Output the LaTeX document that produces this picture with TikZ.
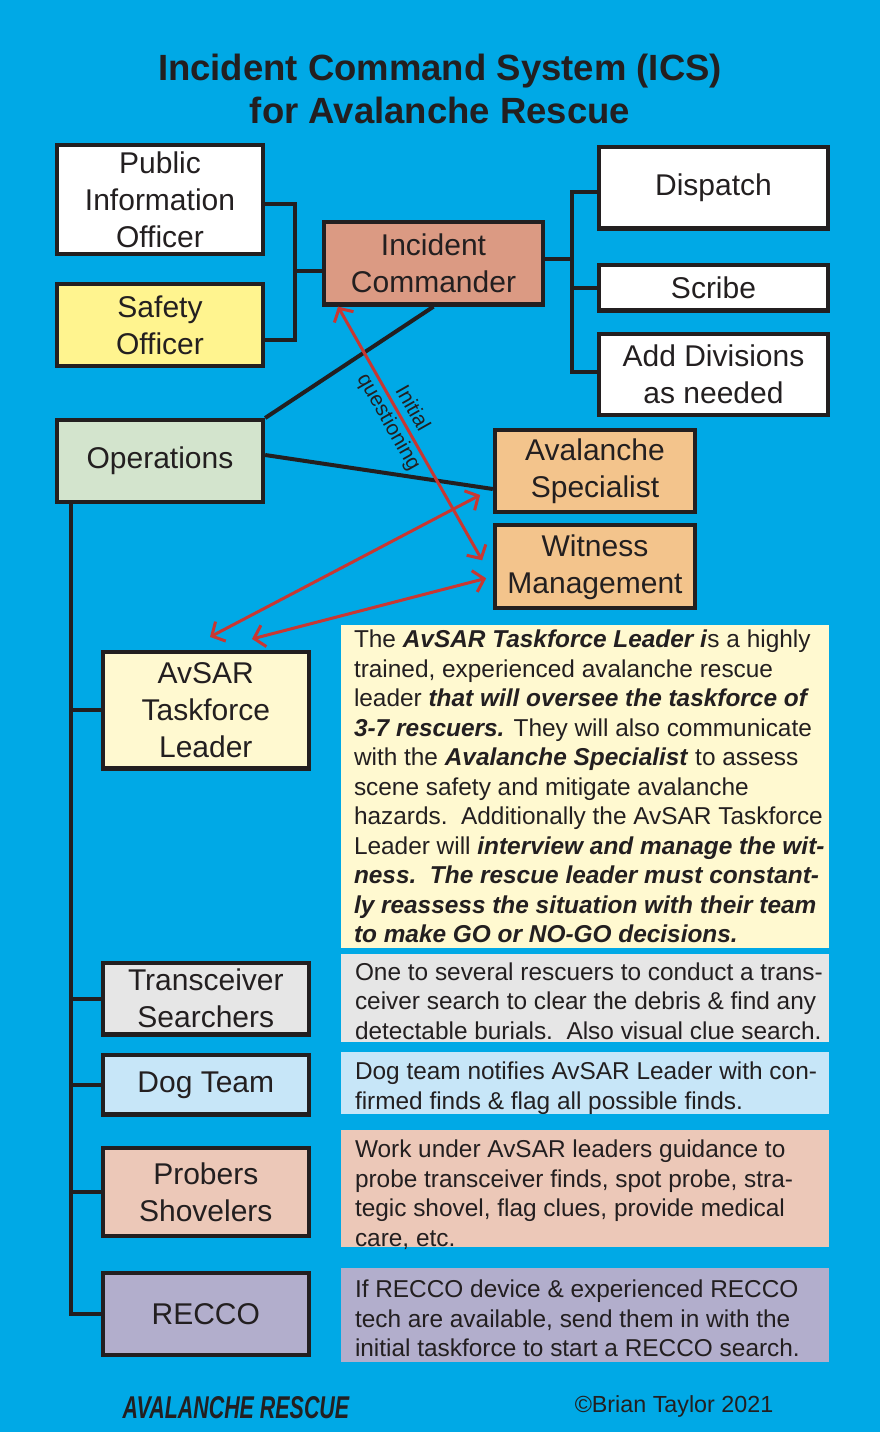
\documentclass[tikz,border=0pt]{standalone}
\usepackage{fontspec}
\setmainfont{Liberation Sans}
\usetikzlibrary{arrows.meta,positioning}

\definecolor{bgblue}{RGB}{0,169,230}
\definecolor{ink}{RGB}{35,31,32}
\definecolor{arrred}{RGB}{200,55,50}
\definecolor{icfill}{RGB}{219,154,131}
\definecolor{safetyfill}{RGB}{255,244,143}
\definecolor{opsfill}{RGB}{211,228,205}
\definecolor{tanfill}{RGB}{243,196,140}
\definecolor{leaderfill}{RGB}{255,249,208}
\definecolor{transfill}{RGB}{230,230,230}
\definecolor{dogfill}{RGB}{199,230,248}
\definecolor{proberfill}{RGB}{236,200,184}
\definecolor{reccofill}{RGB}{178,174,204}

\newcommand{\bi}[1]{\textbf{\textit{#1}}}

\begin{document}
\begin{tikzpicture}[
  x=1pt, y=-1pt,
  role/.style={rectangle, draw=ink, line width=4.3pt, minimum width=206pt, inner sep=0pt, align=center, text=ink, font=\fontsize{30}{37}\selectfont},
  desc/.style={rectangle, minimum width=488pt, inner sep=0pt},
  desctext/.style={align=left, inner sep=0pt, text=ink, font=\fontsize{24.4}{29.5}\selectfont},
  conn/.style={draw=ink, line width=4pt},
  redarr/.style={{Straight Barb[length=10pt,width=22pt]}-{Straight Barb[length=10pt,width=22pt]}, draw=arrred, line width=3pt},
  qlabel/.style={font=\fontsize{21}{27}\selectfont, text=ink, align=center, inner sep=0pt},
  title/.style={font=\fontsize{36.5}{43}\selectfont\bfseries, text=ink, align=center},
]
\path[use as bounding box, fill=bgblue] (0,0) rectangle (880,1432);

\node[title] (title) at (440,89) {Incident Command System (ICS)\\for Avalanche Rescue};

\node[role, fill=white, minimum height=108.7pt] (pio) at (160,199.5) {Public\\Information\\Officer};
\node[role, fill=safetyfill, minimum height=81.7pt, below=26pt of pio] (safety) {Safety\\Officer};
\node[role, fill=icfill, minimum width=218.7pt, minimum height=82.4pt] (ic) at (433.5,263.3) {Incident\\Commander};
\node[role, fill=white, minimum width=228.7pt, minimum height=81.4pt] (dispatch) at (713.5,187.8) {Dispatch};
\node[role, fill=white, minimum width=228.7pt, minimum height=45.7pt, below=32pt of dispatch] (scribe) {Scribe};
\node[role, fill=white, minimum width=228.7pt, minimum height=80.7pt, below=19.3pt of scribe] (adddiv) {Add Divisions\\as needed};
\node[role, fill=opsfill, minimum height=81.7pt] (ops) at (160,461) {Operations};
\node[role, fill=tanfill, minimum width=200pt, minimum height=82pt] (avspec) at (595,471) {Avalanche\\Specialist};
\node[role, fill=tanfill, minimum width=200pt, minimum height=83pt, below=9pt of avspec] (witness) {Witness\\Management};

\node[role, fill=leaderfill, minimum height=116.4pt] (leader) at (205.8,710.3) {AvSAR\\Taskforce\\Leader};
\node[role, fill=transfill, minimum height=71.7pt, below=190pt of leader] (trans) {Transceiver\\Searchers};
\node[role, fill=dogfill, minimum height=59.4pt, below=16.3pt of trans] (dog) {Dog Team};
\node[role, fill=proberfill, minimum height=87.7pt, below=29.3pt of dog] (probers) {Probers\\Shovelers};
\node[role, fill=reccofill, minimum height=82pt, below=32.7pt of probers] (recco) {RECCO};

\node[desc, fill=leaderfill, minimum height=323pt] (dleader) at (585,786.5) {};
\node[desc, fill=transfill, minimum height=87.7pt] (dtrans) at (585,997.9) {};
\node[desc, fill=dogfill, minimum height=62.3pt] (ddog) at (585,1082.9) {};
\node[desc, fill=proberfill, minimum height=117pt] (dprobers) at (585,1188.5) {};
\node[desc, fill=reccofill, minimum height=94pt] (drecco) at (585,1315) {};

\node[desctext, right=13pt of dleader.west] (tleader) {The \bi{AvSAR Taskforce Leader i}s a highly\\
trained, experienced avalanche rescue\\
leader \bi{that will oversee the taskforce of}\\
\bi{3-7 rescuers.} They will also communicate\\
with the \bi{Avalanche Specialist} to assess\\
scene safety and mitigate avalanche\\
hazards.\ \ Additionally the AvSAR Taskforce\\
Leader will \bi{interview and manage the wit-}\\
\bi{ness.\ \ The rescue leader must constant-}\\
\bi{ly reassess the situation with their team}\\
\bi{to make GO or NO-GO decisions.}};
\node[desctext, right=14pt of dtrans.west, yshift=-3pt] (ttrans) {One to several rescuers to conduct a trans-\\
ceiver search to clear the debris \& find any\\
detectable burials.\ \ Also visual clue search.};
\node[desctext, right=14pt of ddog.west, yshift=-5.5pt] (tdog) {Dog team notifies AvSAR Leader with con-\\
firmed finds \& flag all possible finds.};
\node[desctext, right=14pt of dprobers.west, yshift=-6pt] (tprobers) {Work under AvSAR leaders guidance to\\
probe transceiver finds, spot probe, stra-\\
tegic shovel, flag clues, provide medical\\
care, etc.};
\node[desctext, right=14pt of drecco.west, yshift=-3.5pt] (trecco) {If RECCO device \& experienced RECCO\\
tech are available, send them in with the\\
initial taskforce to start a RECCO search.};

\coordinate (lbus) at (295,271);
\coordinate (rbus) at (572,259);
\coordinate (trunk) at (71,504);
\draw[conn] ([yshift=-4.5pt]pio.east) -| (lbus) |- ([yshift=-15pt]safety.east);
\draw[conn] (lbus) -- (lbus -| ic.west);
\draw[conn] (rbus -| ic.east) -- (rbus);
\draw[conn] ([yshift=-4pt]dispatch.west) -| (rbus) |- ([yshift=2pt]adddiv.west);
\draw[conn] (rbus |- scribe.west) -- (scribe.west);
\draw[conn] (ic.south) -- (ops.north east);
\draw[conn] ([yshift=6pt]ops.east) -- ([yshift=-18pt]avspec.west);
\draw[conn] (trunk |- ops.south) -- (trunk |- recco.west) -- (recco.west);
\foreach \n in {leader,trans,dog,probers}
  \draw[conn] (trunk |- \n.west) -- (\n.west);

\draw[redarr] ([xshift=16pt]ic.south west) -- node[pos=0.43, sloped, qlabel] {Initial\\questioning} ([xshift=-10.7pt, yshift=6.5pt]witness.west);
\draw[redarr] ([xshift=4.2pt, yshift=13pt]leader.north) -- ([xshift=-12.7pt, yshift=-24pt]avspec.west);
\draw[redarr] ([xshift=46.2pt, yshift=11pt]leader.north) -- ([xshift=-6.7pt, yshift=-11.5pt]witness.west);

\node[text=ink] (brand) at (236,1408) {\scalebox{0.68}[1]{\fontsize{31.5}{36}\selectfont\bfseries\itshape AVALANCHE RESCUE}};
\node[text=ink, font=\fontsize{23.3}{28}\selectfont] (credit) at (674,1406.5) {©Brian Taylor 2021};
\end{tikzpicture}
\end{document}
